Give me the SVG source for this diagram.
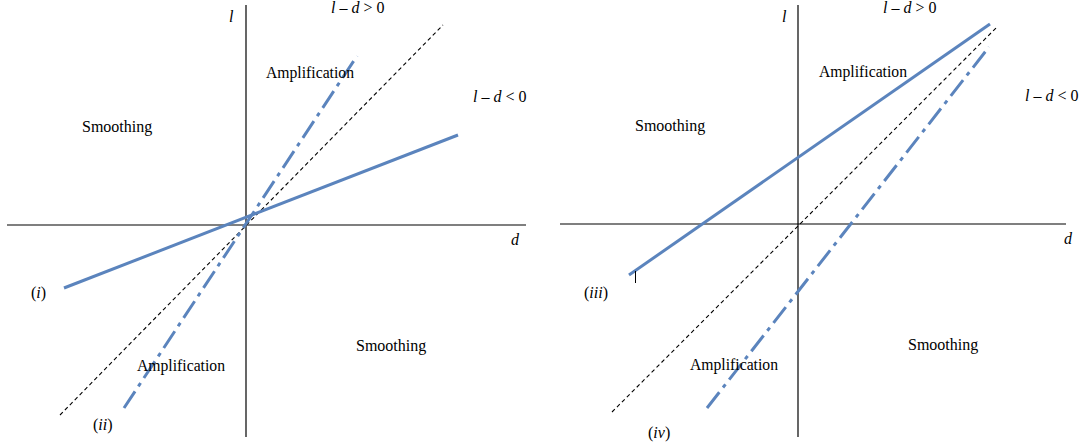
<svg xmlns="http://www.w3.org/2000/svg" width="1083" height="448" viewBox="0 0 1083 448">
<style>
text{font-family:'Liberation Serif','Times New Roman','DejaVu Serif',serif;font-size:16px;fill:#000}
.i{font-style:italic}
.ax{stroke:#000;stroke-width:1.2;fill:none}
.hx{stroke:#555;stroke-width:1.6;fill:none}
.dot{stroke:#000;stroke-width:1.1;stroke-dasharray:4 3;fill:none}
.sol{stroke:#5b84bd;stroke-width:3;fill:none}
.dd{stroke:#5b84bd;stroke-width:3;stroke-dasharray:20 6 4 6;fill:none}
</style>
<rect width="1083" height="448" fill="#fff"/>
<g id="axes">
<line class="hx" x1="7" y1="225" x2="526" y2="225"/>
<line class="ax" x1="246" y1="5" x2="246" y2="437"/>
<line class="hx" x1="560" y1="224" x2="1066" y2="224"/>
<line class="ax" x1="798" y1="5" x2="798" y2="437"/>
</g>
<g id="connectors">
<line class="dot" x1="60" y1="415" x2="443" y2="25"/>
<line class="sol" x1="64" y1="288" x2="458" y2="135"/>
<line class="dd" x1="124" y1="408" x2="357" y2="56"/>
<line class="dot" x1="612" y1="412" x2="997" y2="27"/>
<line class="sol" x1="629" y1="275" x2="990" y2="24"/>
<line class="dd" x1="707" y1="408" x2="989" y2="47"/>
<line stroke="#000" stroke-width="1" x1="635.5" y1="271" x2="635.5" y2="283"/>
</g>
<g id="left-labels">
<text class="i" x="229" y="22">l</text>
<text x="331" y="13"><tspan class="i">l</tspan> – <tspan class="i">d</tspan> &gt; 0</text>
<text x="266" y="78" textLength="88" lengthAdjust="spacingAndGlyphs">Amplification</text>
<text x="473" y="102"><tspan class="i">l</tspan> – <tspan class="i">d</tspan> &lt; 0</text>
<text x="82" y="132">Smoothing</text>
<text class="i" x="511" y="245">d</text>
<text x="31" y="298">(<tspan class="i">i</tspan>)</text>
<text x="137" y="371" textLength="88" lengthAdjust="spacingAndGlyphs">Amplification</text>
<text x="356" y="351">Smoothing</text>
<text x="93" y="430">(<tspan class="i">ii</tspan>)</text>
</g>
<g id="right-labels">
<text class="i" x="782" y="22">l</text>
<text x="883" y="13"><tspan class="i">l</tspan> – <tspan class="i">d</tspan> &gt; 0</text>
<text x="819" y="77" textLength="88" lengthAdjust="spacingAndGlyphs">Amplification</text>
<text x="1025" y="101"><tspan class="i">l</tspan> – <tspan class="i">d</tspan> &lt; 0</text>
<text x="635" y="131">Smoothing</text>
<text class="i" x="1064" y="244">d</text>
<text x="584" y="298">(<tspan class="i">iii</tspan>)</text>
<text x="690" y="370" textLength="88" lengthAdjust="spacingAndGlyphs">Amplification</text>
<text x="908" y="350">Smoothing</text>
<text x="648" y="438">(<tspan class="i">iv</tspan>)</text>
</g>
</svg>
